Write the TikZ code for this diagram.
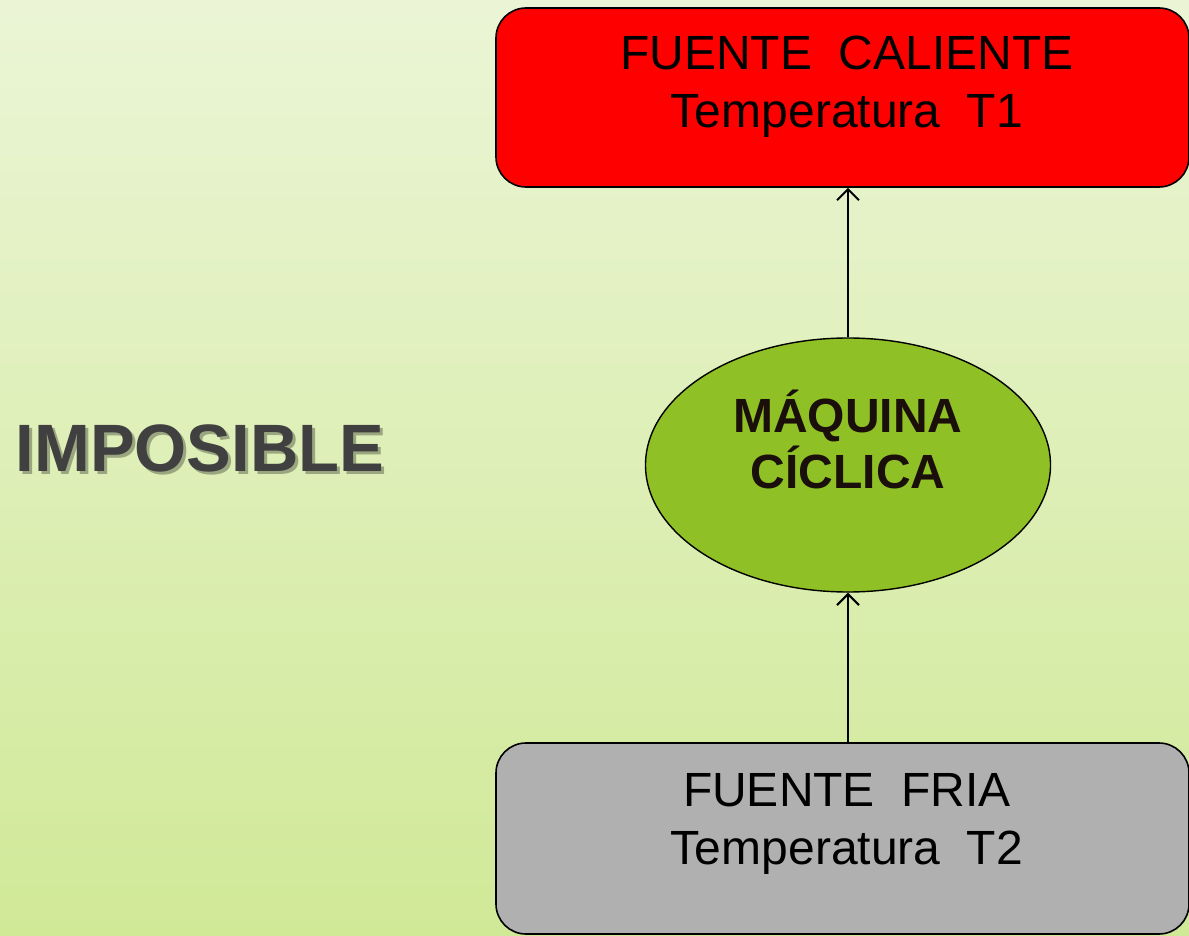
\documentclass[tikz,border=0pt]{standalone}
\usepackage{fontspec}
\setmainfont{Liberation Sans}
\usetikzlibrary{shapes.geometric,arrows.meta}
\definecolor{bgtop}{HTML}{EBF5D6}
\definecolor{bgbot}{HTML}{D0E997}
\definecolor{hotred}{HTML}{FF0000}
\definecolor{coldgray}{HTML}{B0B0B0}
\definecolor{machgreen}{HTML}{8FC126}
\definecolor{machtext}{HTML}{1A0F0A}
\definecolor{imptext}{HTML}{404040}
\tikzset{
  source/.style={draw=black, line width=1.6pt, rounded corners=30pt, minimum width=693pt, minimum height=179pt, inner sep=0pt},
  srctext/.style={align=center, font=\fontsize{48}{58}\selectfont, text=black, inner sep=0pt},
  machine/.style={ellipse, draw=black, line width=1.4pt, fill=machgreen, minimum width=405pt, minimum height=254pt, inner sep=0pt},
  flow/.style={line width=2pt, -{Straight Barb[length=11pt,width=22pt,line width=2pt]}},
  imptxt/.style={font=\bfseries\fontsize{67}{67}\selectfont, inner sep=0pt}
}
\begin{document}
\begin{tikzpicture}[x=1pt,y=-1pt]
\useasboundingbox (0,0) rectangle (1189,936);
\clip (0,0) rectangle (1189,936);
\shade[top color=bgtop, bottom color=bgbot] (0,0) rectangle (1189,936);
% hot source
\node[source, fill=hotred, minimum height=179pt] (hot) at (842.5,97.5) {};
\node[srctext] (hottext) at (847,87) {FUENTE\ \ CALIENTE\\Temperatura\ \ T1};
% cold source
\node[source, fill=coldgray, minimum height=191pt] (cold) at (842.5,838.5) {};
\node[srctext] (coldtext) at (847,824) {FUENTE\ \ FRIA\\Temperatura\ \ T2};
% machine
\node[machine] (mach) at (848,465) {};
\node[align=center, font=\bfseries\fontsize{48}{56}\selectfont, text=machtext, inner sep=0pt] (machtxt) at (848,439) {MÁQUINA\\CÍCLICA};
% connectors
\draw[flow] (mach.north) -- (mach.north |- hot.south);
\draw[flow] (cold.north -| mach.south) -- (mach.south);
% IMPOSIBLE with shadow
\node[imptxt, text=black, opacity=0.3] (impshadow) at (203,451) {IMPOSIBLE};
\node[imptxt, text=imptext] (imp) at (200,448) {IMPOSIBLE};
\end{tikzpicture}
\end{document}
